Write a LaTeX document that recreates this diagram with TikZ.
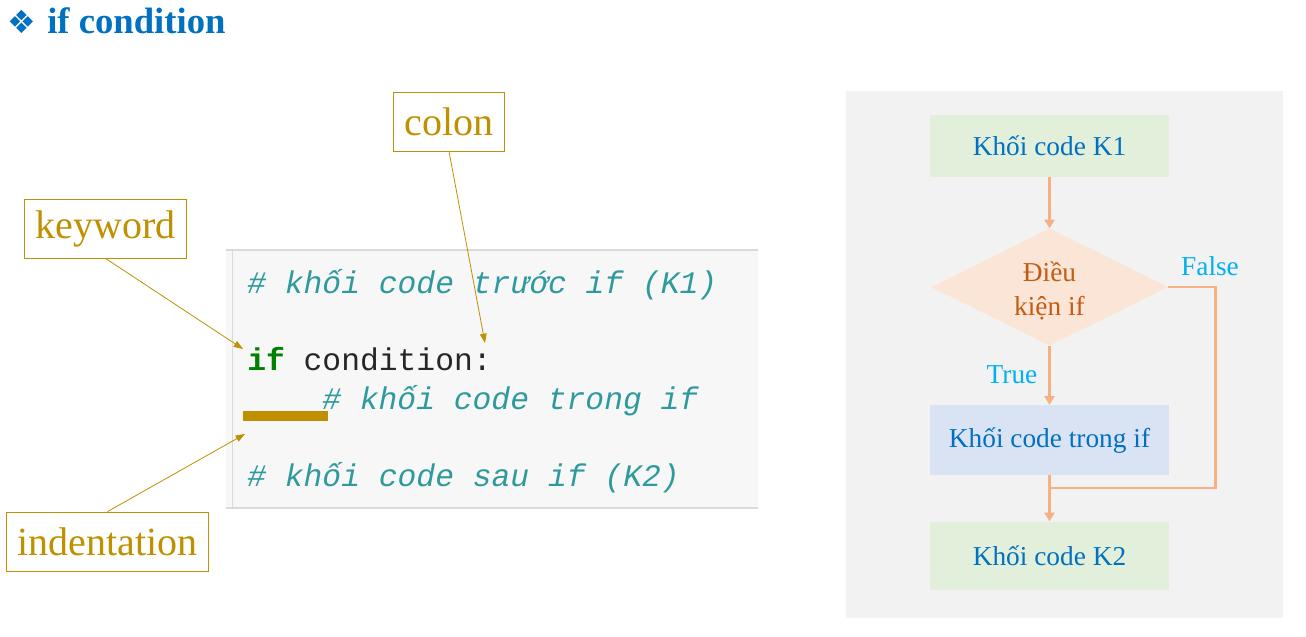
\documentclass[tikz,border=0pt]{standalone}
\usepackage{fontspec}
\setmainfont{Liberation Serif}
\setmonofont{Liberation Mono}
\newfontfamily\symfont{DejaVu Sans}
\usetikzlibrary{arrows.meta,positioning,shapes.geometric}
\definecolor{titleblue}{HTML}{0070C0}
\definecolor{gold}{HTML}{BF9000}
\definecolor{codebg}{HTML}{F7F7F7}
\definecolor{coderule}{HTML}{DADADA}
\definecolor{comment}{HTML}{2F9A9E}
\definecolor{kwgreen}{HTML}{008000}
\definecolor{panel}{HTML}{F2F2F2}
\definecolor{leaf}{HTML}{E2EFDA}
\definecolor{sky}{HTML}{DAE3F3}
\definecolor{peach}{HTML}{FBE5D6}
\definecolor{flowline}{HTML}{F4B183}
\definecolor{condtext}{HTML}{C55A11}
\definecolor{branch}{HTML}{00B0F0}

\begin{document}
\begin{tikzpicture}[x=0.75pt,y=-0.75pt,>=Latex,
 note/.style={draw=gold,fill=white,text=gold,font=\fontsize{30}{34}\selectfont,inner xsep=8.5pt,minimum height=44.25pt,line width=0.6pt},
 ptr/.style={-{Triangle[width=5pt,length=7pt]},draw=gold,line width=0.6pt},
 codeline/.style={anchor=base west,inner sep=0pt,font=\ttfamily\itshape\fontsize{23.5}{28}\selectfont,text=comment},
 blk/.style={minimum width=179.25pt,text=titleblue,font=\fontsize{20.5}{24}\selectfont,inner sep=0pt},
 cond/.style={diamond,shape aspect=2,fill=peach,text=condtext,inner sep=0pt,minimum width=177.75pt,minimum height=87.75pt,font=\fontsize{20.5}{25.5}\selectfont},
 flow/.style={draw=flowline,line width=2pt},
 flowarr/.style={flow,-{Triangle[width=7.5pt,length=6.5pt]}},
 lbl/.style={text=branch,font=\fontsize{20.5}{24}\selectfont,inner sep=0pt}]
\useasboundingbox (0,0) rectangle (1306,636);
% title
\node[anchor=base west,inner sep=0pt,text=titleblue,font=\bfseries\fontsize{27.5}{30}\selectfont] (title) at (7,33) {{\symfont\fontsize{24}{26}\selectfont ❖}\hspace{8.5pt}if condition};
% code panel
\fill[codebg] (226,250) rectangle (758,508);
\draw[coderule,line width=1.5pt] (226,250) -- (758,250) (226,508) -- (758,508);
\draw[coderule,line width=0.75pt] (232,250) -- (232,508);
\node[codeline] (before) at (247,293) {\# khối code trước if (K1)};
\node[codeline,font=\ttfamily\fontsize{23.5}{28}\selectfont,text=black!85] (head) at (247,370) {\textbf{\textcolor{kwgreen}{if}} condition:};
\node[codeline] (inside) at (322,409) {\# khối code trong if};
\node[codeline] (after) at (247,486) {\# khối code sau if (K2)};
\node[fill=gold,minimum width=63.75pt,minimum height=7.5pt,inner sep=0pt,anchor=north west] (bar) at (243,411) {};
% annotations
\node[note] (keyword) at (105.5,228.5) {keyword};
\node[note] (colon) at (449,121.5) {colon};
\node[note] (indent) at (107.5,541.5) {indentation};
\coordinate (kwtip) at (243,349);
\coordinate (coltip) at (485,343);
\coordinate (indtip) at (245,434);
\draw[ptr] (keyword.south) -- (kwtip);
\draw[ptr] (colon.south) -- (coltip);
\draw[ptr] (indent.north) -- (indtip);
% flowchart
\fill[panel] (846,91) rectangle (1283,618);
\node[blk,fill=leaf,minimum height=46.5pt] (k1) at (1049.5,146) {Khối code K1};
\node[cond,below=38.25pt of k1] (test) {\raisebox{-3.5pt}[\height][\depth]{\begin{tabular}{@{}c@{}}Điều\\kiện if\end{tabular}}};
\node[blk,fill=sky,minimum height=52.5pt,below=44.25pt of test] (body) {Khối code trong if};
\node[blk,fill=leaf,minimum height=51pt,below=34.5pt of body] (k2) {Khối code K2};
\coordinate (merge) at (1049.5,488);
\draw[flowarr] (k1) -- (test);
\draw[flowarr] (test) -- (body);
\draw[flow] (test.east) -- ++(47,0) |- (merge);
\draw[flowarr] (body) -- (k2);
\node[lbl] (yes) at (1012,375) {True};
\node[lbl] (no) at (1210,266) {False};
\end{tikzpicture}
\end{document}
